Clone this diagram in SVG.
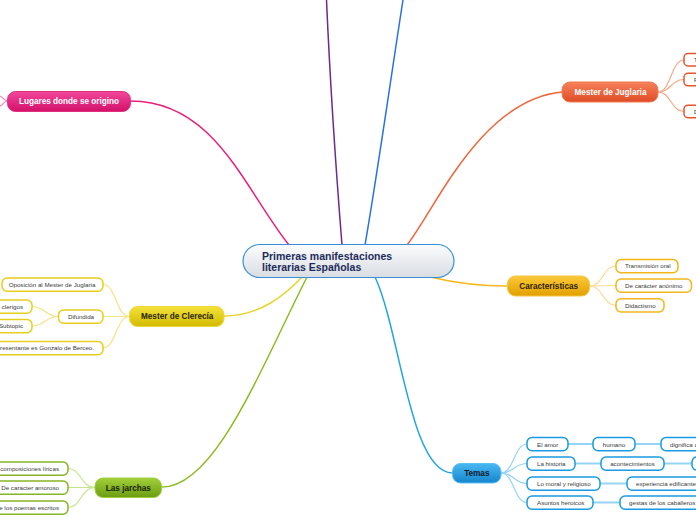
<svg xmlns="http://www.w3.org/2000/svg" width="696" height="520" viewBox="0 0 696 520">
<defs>
<linearGradient id="gC" x1="0" y1="0" x2="0" y2="1"><stop offset="0" stop-color="#fbfcfd"/><stop offset="1" stop-color="#d9dde2"/></linearGradient>
<linearGradient id="gPink" x1="0" y1="0" x2="0" y2="1"><stop offset="0" stop-color="#f2489c"/><stop offset="1" stop-color="#d3106a"/></linearGradient>
<linearGradient id="gOr" x1="0" y1="0" x2="0" y2="1"><stop offset="0" stop-color="#f6825a"/><stop offset="1" stop-color="#df4c26"/></linearGradient>
<linearGradient id="gGold" x1="0" y1="0" x2="0" y2="1"><stop offset="0" stop-color="#fbc93a"/><stop offset="1" stop-color="#e2a000"/></linearGradient>
<linearGradient id="gYel" x1="0" y1="0" x2="0" y2="1"><stop offset="0" stop-color="#f4e23a"/><stop offset="1" stop-color="#d2bb00"/></linearGradient>
<linearGradient id="gGr" x1="0" y1="0" x2="0" y2="1"><stop offset="0" stop-color="#a2d03a"/><stop offset="1" stop-color="#6c9c12"/></linearGradient>
<linearGradient id="gBl" x1="0" y1="0" x2="0" y2="1"><stop offset="0" stop-color="#48b8f2"/><stop offset="1" stop-color="#1686cc"/></linearGradient>
</defs>
<style>
.t{font-family:"Liberation Sans",Arial,sans-serif;}
.main{font-size:10.5px;font-weight:bold;fill:#1c2b5a;}
.nt{font-size:8.2px;font-weight:bold;text-anchor:middle;}
.st{font-size:6.2px;fill:#3a3a3a;}
.c{fill:none;stroke-linecap:round;}
.m{stroke-width:1.5;}
.s{stroke-width:1.2;}
.cb{fill:#fff;stroke-width:1.5;}
</style>
<g id="connectors">
<path class="c m" stroke="#e8207a" d="M130.7,101 C215,101 245,190 289,245"/>
<path class="c m" stroke="#6a2a92" d="M326.5,0 C330,80 336,170 342,245"/>
<path class="c m" stroke="#2a72e0" d="M403,0 C392,70 378,170 365,245"/>
<path class="c m" stroke="#f0643a" d="M407,245 C435,210 480,100 562,92"/>
<path class="c m" stroke="#f5b820" d="M430,277 C455,283 480,286 507.5,286"/>
<path class="c m" stroke="#e8d428" d="M224,316 C260,316 285,295 302,277"/>
<path class="c m" stroke="#8cbc22" d="M162,487 C215,487 260,370 307,277"/>
<path class="c m" stroke="#22a4e4" d="M375,277 C400,330 410,473 452.5,473"/>
<g stroke="#f286b6" class="c s"><path d="M7.5,101 C4,101 3,97 0,96"/><path d="M7.5,101 C4,101 3,105 0,106"/></g>
<g stroke="#f8a888" class="c s"><path d="M658,92 C671,92 671,60 684,60"/><path d="M658,92 C671,92 671,79.5 684,79.5"/><path d="M658,92 C671,92 671,111.5 684,111.5"/></g>
<g stroke="#f9dc96" class="c s"><path d="M589.5,286 C603,286 603,266 616,266"/><path d="M589.5,286 L616,285.5"/><path d="M589.5,286 C603,286 603,305.5 616,305.5"/></g>
<g stroke="#f2e486" class="c s"><path d="M129.5,316.5 C116,316.5 116,284.5 103,284.5"/><path d="M129.5,316.5 L103,316.5"/><path d="M129.5,316.5 C116,316.5 116,348 103,348"/><path d="M58.5,316.5 C45,316.5 45,306.5 32,306.5"/><path d="M58.5,316.5 C45,316.5 45,326 32,326"/></g>
<g stroke="#c6e48c" class="c s"><path d="M95,487.5 C81,487.5 81,468.5 68,468.5"/><path d="M95,487.5 L68,487.5"/><path d="M95,487.5 C81,487.5 81,507.5 68,507.5"/></g>
<g stroke="#96d4f4" class="c s"><path d="M501,473 C514,473 514,444 527,444"/><path d="M501,473 C514,473 514,463.5 527,463.5"/><path d="M501,473 C514,473 514,483.5 527,483.5"/><path d="M501,473 C514,473 514,502.5 527,502.5"/></g>
<g stroke="#96d4f4" class="c" stroke-width="2"><path d="M568,444 H593"/><path d="M635,444 H661"/><path d="M575,463.5 H601"/><path d="M664,463.5 H692"/><path d="M600,483.5 H627"/><path d="M593,502.5 H620"/></g>
</g>
<g id="central"><rect x="243" y="244.5" width="211" height="33" rx="16.5" fill="url(#gC)" stroke="#3a90d8" stroke-width="1.2"/><text class="t main" x="262" y="259.5">Primeras manifestaciones</text><text class="t main" x="262" y="271">literarias Españolas</text></g>
<g id="lugares"><rect x="7.5" y="91.5" width="123" height="20" rx="8" fill="url(#gPink)" stroke="#e0307e" stroke-width="1"/><text class="t nt" x="69" y="104.3" fill="#fff">Lugares donde se origino</text></g>
<g id="juglaria"><rect x="562" y="82" width="96" height="20" rx="8" fill="url(#gOr)" stroke="#f07a52" stroke-width="1"/><text class="t nt" x="610.5" y="95" fill="#fff">Mester de Juglaria</text></g>
<g id="jug1"><rect x="684" y="53.5" width="30" height="12.5" rx="4" class="cb" stroke="#e8542a"/><text class="t st" x="694" y="61.8">T</text></g>
<g id="jug2"><rect x="684" y="73.3" width="30" height="12.5" rx="4" class="cb" stroke="#e8542a"/><text class="t st" x="694" y="81.8">F</text></g>
<g id="jug3"><rect x="684" y="105.2" width="30" height="12.5" rx="4" class="cb" stroke="#e8542a"/><text class="t st" x="694" y="113.8">D</text></g>
<g id="caracteristicas"><rect x="507.5" y="276" width="82" height="20" rx="8" fill="url(#gGold)" stroke="#f6c440" stroke-width="1"/><text class="t nt" x="548.7" y="288.8" fill="#2e2200">Características</text></g>
<g id="car1"><rect x="616" y="259.5" width="62" height="13.2" rx="5" class="cb" stroke="#f2b61a"/><text class="t st" x="625" y="268.4">Transmisión oral</text></g>
<g id="car2"><rect x="616" y="279" width="75.5" height="13.2" rx="5" class="cb" stroke="#f2b61a"/><text class="t st" x="625" y="287.9">De carácter anónimo</text></g>
<g id="car3"><rect x="616" y="298.8" width="48" height="13.2" rx="5" class="cb" stroke="#f2b61a"/><text class="t st" x="625" y="307.6">Didactismo</text></g>
<g id="clerecia"><rect x="129.5" y="306.5" width="94.5" height="20" rx="8" fill="url(#gYel)" stroke="#ecd83a" stroke-width="1"/><text class="t nt" x="177.2" y="319.2" fill="#2a2400">Mester de Clerecía</text></g>
<g id="cle1"><rect x="2" y="278" width="101" height="13.2" rx="5" class="cb" stroke="#e6cf1a"/><text class="t st" x="52" y="286.9" text-anchor="middle">Oposición al Mester de Juglaria</text></g>
<g id="cle2"><rect x="58.5" y="310" width="44.5" height="13.2" rx="5" class="cb" stroke="#e6cf1a"/><text class="t st" x="81" y="318.9" text-anchor="middle">Difundida</text></g>
<g id="cle21"><rect x="-20" y="300" width="52" height="13.2" rx="5" class="cb" stroke="#e6cf1a"/><text class="t st" x="23" y="308.9" text-anchor="end">clerigos</text></g>
<g id="cle22"><rect x="-20" y="319.5" width="52" height="13.2" rx="5" class="cb" stroke="#e6cf1a"/><text class="t st" x="23" y="328.3" text-anchor="end">Subtopic</text></g>
<g id="cle3"><rect x="-20" y="341.5" width="123" height="13.2" rx="5" class="cb" stroke="#e6cf1a"/><text class="t st" x="94" y="350.3" text-anchor="end">representante es Gonzalo de Berceo.</text></g>
<g id="jarchas"><rect x="95" y="478" width="66.5" height="19.5" rx="8" fill="url(#gGr)" stroke="#a2d040" stroke-width="1"/><text class="t nt" x="128.3" y="490.5" fill="#162200">Las jarchas</text></g>
<g id="jar1"><rect x="-20" y="462" width="88" height="13.2" rx="5" class="cb" stroke="#86b424"/><text class="t st" x="59" y="470.6" text-anchor="end">composiciones líricas</text></g>
<g id="jar2"><rect x="-20" y="481" width="88" height="13.2" rx="5" class="cb" stroke="#86b424"/><text class="t st" x="59" y="489.9" text-anchor="end">De caracter amoroso</text></g>
<g id="jar3"><rect x="-20" y="501" width="88" height="13.2" rx="5" class="cb" stroke="#86b424"/><text class="t st" x="59" y="509.6" text-anchor="end">e los poemas escritos</text></g>
<g id="temas"><rect x="452.5" y="463.5" width="48.5" height="19.5" rx="8" fill="url(#gBl)" stroke="#5ac0f4" stroke-width="1"/><text class="t nt" x="476.8" y="476.2" fill="#0a1a2c">Temas</text></g>
<g id="tem1"><rect x="527" y="437.5" width="41" height="13.2" rx="5" class="cb" stroke="#1a9ae2"/><text class="t st" x="537" y="446.5">El amor</text></g>
<g id="tem11"><rect x="593" y="437.5" width="42" height="13.2" rx="5" class="cb" stroke="#1a9ae2"/><text class="t st" x="614" y="446.5" text-anchor="middle">humano</text></g>
<g id="tem12"><rect x="661" y="437.5" width="60" height="13.2" rx="5" class="cb" stroke="#1a9ae2"/><text class="t st" x="670" y="446.5">dignifica a</text></g>
<g id="tem2"><rect x="527" y="457" width="48" height="13.2" rx="5" class="cb" stroke="#1a9ae2"/><text class="t st" x="537" y="466">La historia</text></g>
<g id="tem21"><rect x="601" y="457" width="63" height="13.2" rx="5" class="cb" stroke="#1a9ae2"/><text class="t st" x="632.5" y="466" text-anchor="middle">acontecimientos</text></g>
<g id="tem22"><rect x="692" y="457" width="30" height="13.2" rx="5" class="cb" stroke="#1a9ae2"/></g>
<g id="tem3"><rect x="527" y="477" width="73" height="13.2" rx="5" class="cb" stroke="#1a9ae2"/><text class="t st" x="537" y="486">Lo moral y religioso</text></g>
<g id="tem31"><rect x="627" y="477" width="80" height="13.2" rx="5" class="cb" stroke="#1a9ae2"/><text class="t st" x="636" y="486">experiencia edificante</text></g>
<g id="tem4"><rect x="527" y="496" width="66" height="13.2" rx="5" class="cb" stroke="#1a9ae2"/><text class="t st" x="537" y="505">Asuntos heroicos</text></g>
<g id="tem41"><rect x="620" y="496" width="90" height="13.2" rx="5" class="cb" stroke="#1a9ae2"/><text class="t st" x="629" y="505">gestas de los caballeros</text></g>
</svg>
